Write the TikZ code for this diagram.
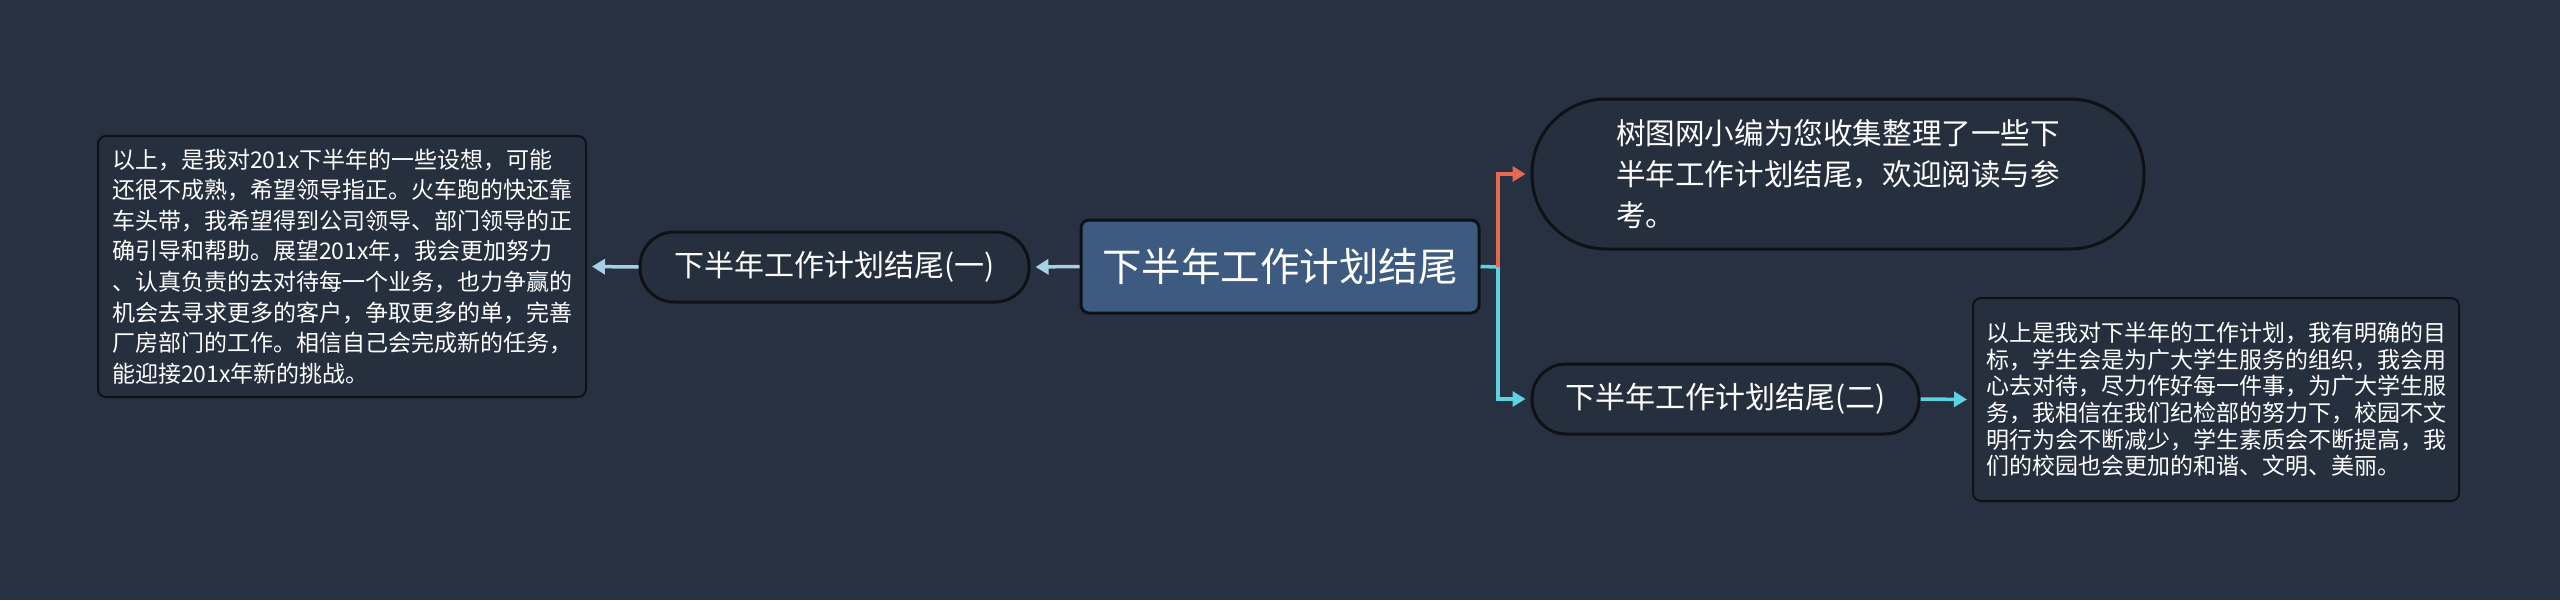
\documentclass[tikz,border=0pt]{standalone}
\usepackage{fontspec}
\setmainfont{Noto Sans CJK SC}
\usetikzlibrary{arrows.meta}
\definecolor{bg}{HTML}{283142}
\definecolor{nodefill}{HTML}{262F3E}
\definecolor{rootfill}{HTML}{3D5A80}
\definecolor{lblue}{HTML}{A8CFE6}
\definecolor{cyanline}{HTML}{5DD3E0}
\definecolor{orangeline}{HTML}{E8684F}
\definecolor{edge}{HTML}{0E1116}
\begin{document}
\begin{tikzpicture}[x=1pt,y=-1pt,
  pill/.style={draw=edge, line width=3pt, fill=nodefill, rounded corners=34pt,
    minimum height=70pt, inner sep=0pt, text=white,
    font=\fontsize{30}{40.7}\selectfont},
  leafbox/.style={draw=edge, line width=2pt, fill=nodefill, rounded corners=8pt,
    inner sep=0pt, text=white, align=left},
  conn/.style={line width=3.5pt, -{Triangle[length=13pt,width=15pt]}, shorten >=5pt},
  plainconn/.style={line width=3.5pt}
]
\fill[bg] (0,0) rectangle (2560,600);
\useasboundingbox (0,0) rectangle (2560,600);

\node[draw=edge, line width=3pt, fill=rootfill, rounded corners=8pt, inner sep=0pt,
  minimum width=398pt, minimum height=93pt, text=white,
  font=\fontsize{39.5}{44}\selectfont] (root) at (1280,266.5) {下半年工作计划结尾};

\node[pill, minimum width=389pt] (c1) at (834.5,267) {下半年工作计划结尾(一)};

\node[leafbox, minimum width=488pt, minimum height=261pt,
  font=\fontsize{23}{30.6}\selectfont] (leaf1) at (342,266.5)
  {以上，是我对201x下半年的一些设想，可能\\
   还很不成熟，希望领导指正。火车跑的快还靠\\
   车头带，我希望得到公司领导、部门领导的正\\
   确引导和帮助。展望201x年，我会更加努力\\
   、认真负责的去对待每一个业务，也力争赢的\\
   机会去寻求更多的客户，争取更多的单，完善\\
   厂房部门的工作。相信自己会完成新的任务，\\
   能迎接201x年新的挑战。};

\node[pill, rounded corners=74pt, minimum width=612pt, minimum height=150pt,
  align=left, font=\fontsize{29.6}{40.7}\selectfont] (t) at (1838,174)
  {树图网小编为您收集整理了一些下\\
   半年工作计划结尾，欢迎阅读与参\\
   考。\hspace*{12pt}};

\node[pill, minimum width=387pt] (c2) at (1725.5,399) {下半年工作计划结尾(二)};

\node[leafbox, minimum width=486pt, minimum height=203pt,
  font=\fontsize{23}{26.7}\selectfont] (leaf2) at (2216,399.5)
  {以上是我对下半年的工作计划，我有明确的目\\
   标，学生会是为广大学生服务的组织，我会用\\
   心去对待，尽力作好每一件事，为广大学生服\\
   务，我相信在我们纪检部的努力下，校园不文\\
   明行为会不断减少，学生素质会不断提高，我\\
   们的校园也会更加的和谐、文明、美丽。};

\coordinate (j) at (1498,267);

\draw[conn, lblue] (root.west) -- (c1.east);
\draw[conn, lblue] (c1.west) -- (leaf1.east);
\draw[plainconn, cyanline] (root.east) -- (j);
\draw[conn, cyanline] (j) |- (c2.west);
\draw[conn, orangeline] (j) |- (t.west);
\draw[conn, cyanline] (c2.east) -- (leaf2.west);
\end{tikzpicture}
\end{document}
